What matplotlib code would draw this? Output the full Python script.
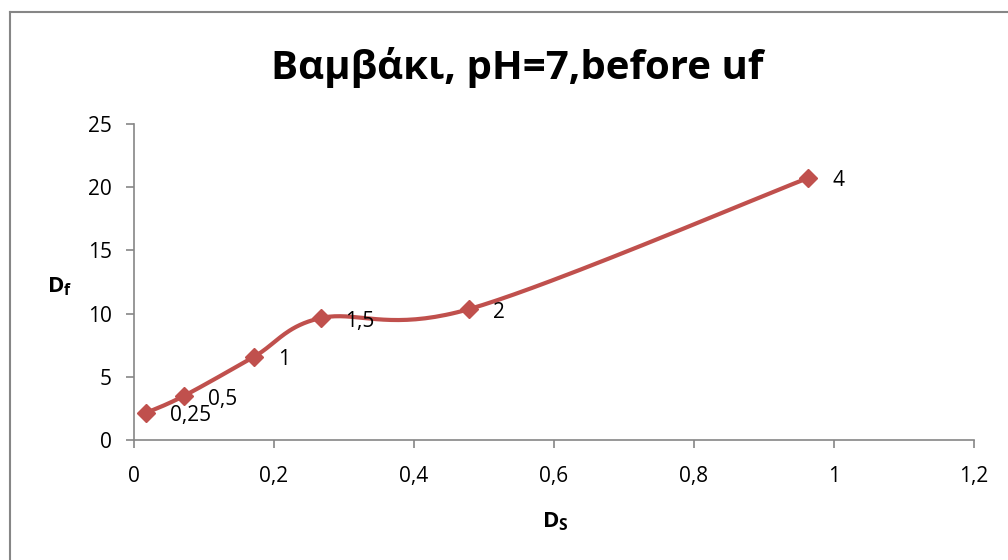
import numpy as np
import matplotlib
matplotlib.use("Agg")
import matplotlib.pyplot as plt
from matplotlib.lines import Line2D

plt.rcParams['font.family'] = ['Open Sans', 'DejaVu Sans']
plt.rcParams['mathtext.fontset'] = 'custom'
plt.rcParams['mathtext.rm'] = 'Open Sans'
plt.rcParams['mathtext.bf'] = 'Open Sans:bold'

# data
ds = [0.017, 0.071, 0.171, 0.267, 0.479, 0.963]
df = [2.14, 3.48, 6.57, 9.65, 10.36, 20.73]
point_labels = ["0,25", "0,5", "1", "1,5", "2", "4"]
x_ticks = [0, 0.2, 0.4, 0.6, 0.8, 1.0, 1.2]
x_tick_labels = ["0", "0,2", "0,4", "0,6", "0,8", "1", "1,2"]
y_ticks = [0, 5, 10, 15, 20, 25]

red = "#C0504D"
grey = "#868686"

fig = plt.figure(figsize=(10.08, 5.6), dpi=100)
ax = fig.add_axes([134 / 1008, 1 - 440 / 560, 840 / 1008, 316 / 560])
ax.set_xlim(0, 1.2)
ax.set_ylim(0, 25)


def smooth(ax, xs, ys, n=40):
    # Excel-style smoothed line: bezier through points, done in screen space
    p = ax.transData.transform(np.column_stack([xs, ys]))
    out = [p[0]]
    for i in range(len(p) - 1):
        p0 = p[i - 1] if i > 0 else p[i]
        p1 = p[i]
        p2 = p[i + 1]
        p3 = p[i + 2] if i + 2 < len(p) else p[i + 1]
        c1 = p1 + (p2 - p0) / 6
        c2 = p2 - (p3 - p1) / 6
        t = np.linspace(0, 1, n)[1:, None]
        seg = ((1 - t) ** 3 * p1 + 3 * (1 - t) ** 2 * t * c1
               + 3 * (1 - t) * t ** 2 * c2 + t ** 3 * p2)
        out.extend(seg)
    out = ax.transData.inverted().transform(np.array(out))
    return out[:, 0], out[:, 1]


sx, sy = smooth(ax, ds, df)
ax.plot(sx, sy, color=red, lw=3.0, solid_capstyle="round", zorder=2)
ax.plot(ds, df, ls="none", marker="D", ms=9.5, color=red, mec=red, zorder=3)

for x, y, lab in zip(ds, df, point_labels):
    ax.annotate(lab, (x, y), xytext=(24, -3), textcoords="offset pixels",
                ha="left", va="center", fontsize=15)

ax.set_xticks(x_ticks)
ax.set_xticklabels(x_tick_labels)
ax.set_yticks(y_ticks)
ax.tick_params(axis="both", labelsize=15, color=grey, length=6, width=1.2,
               direction="out")
ax.tick_params(axis="x", pad=13)
ax.tick_params(axis="y", pad=10)
for s in ["top", "right"]:
    ax.spines[s].set_visible(False)
for s in ["left", "bottom"]:
    ax.spines[s].set_color(grey)
    ax.spines[s].set_linewidth(1.2)

fig.text(517 / 1008, 1 - 67 / 560, "Βαμβάκι, pH=7,before uf",
         ha="center", va="center", fontsize=29, fontweight="bold")
fig.text(555 / 1008, 1 - 522 / 560, r"$\mathbf{D_S}$",
         ha="center", va="center", fontsize=16)
fig.text(60 / 1008, 1 - 287 / 560, r"$\mathbf{D_f}$",
         ha="center", va="center", fontsize=16)

# chart border (only left and top edges are visible in the picture)
fig.add_artist(Line2D([10 / 1008, 10 / 1008], [0, 1 - 12 / 560],
                      transform=fig.transFigure, color=grey, lw=1.5))
fig.add_artist(Line2D([10 / 1008, 1], [1 - 12 / 560, 1 - 12 / 560],
                      transform=fig.transFigure, color=grey, lw=1.5))

fig.savefig("out.png", dpi=100)
